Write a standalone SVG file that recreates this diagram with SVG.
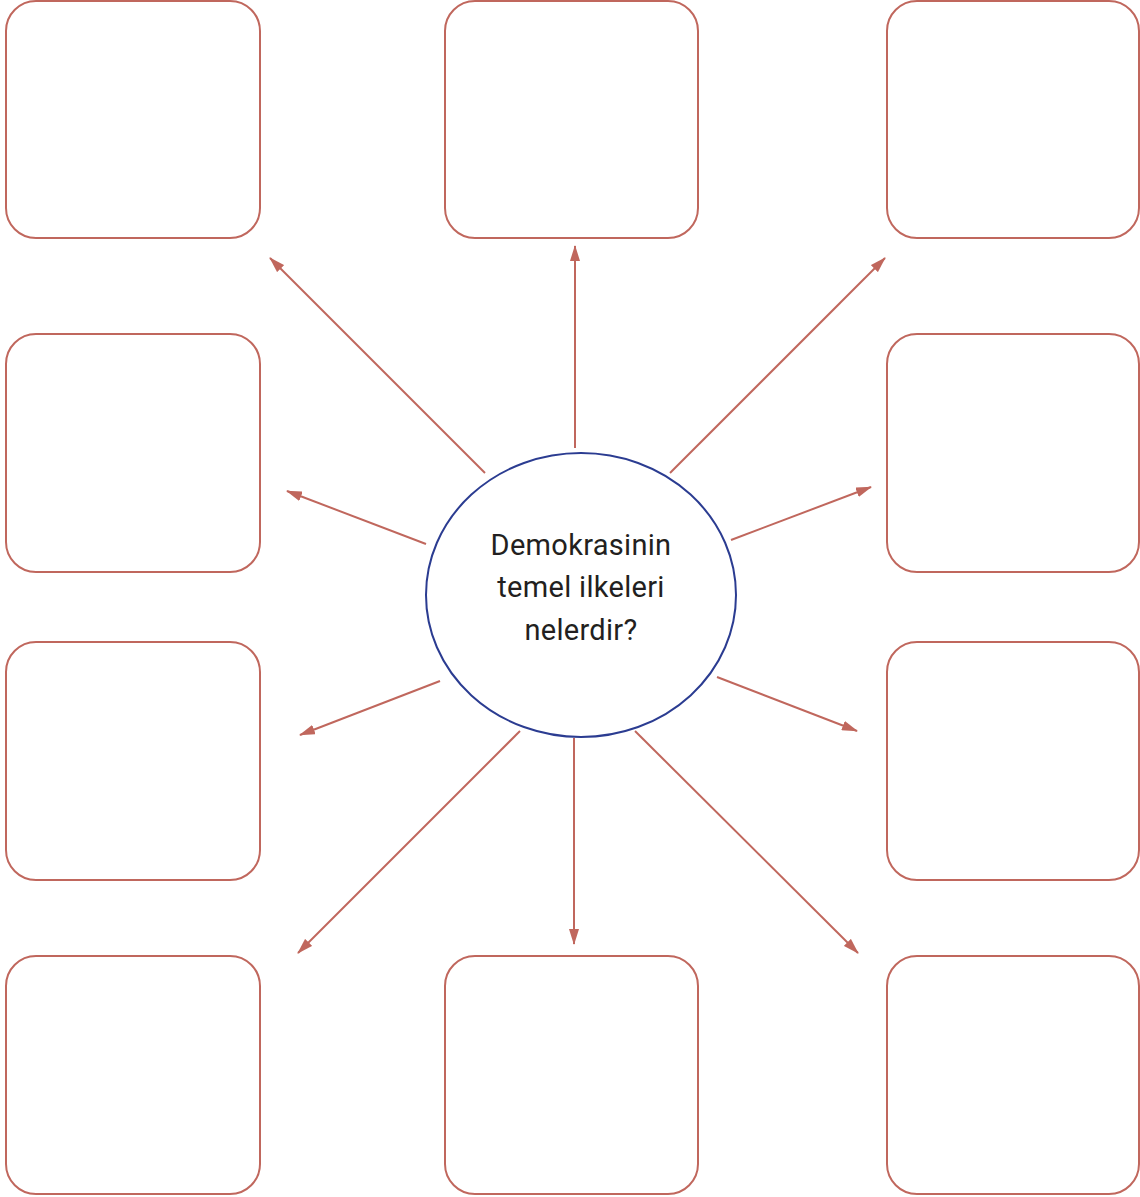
<svg xmlns="http://www.w3.org/2000/svg" width="1140" height="1197" viewBox="0 0 1140 1197">
<style>
.box{fill:#fff;stroke:#c0675d;stroke-width:2}
.con{stroke:#c0675d;stroke-width:2;fill:none;marker-end:url(#ah)}
.lbl{font-family:Roboto,"Liberation Sans",sans-serif;font-size:29px;letter-spacing:0.3px;fill:#231f20;text-anchor:middle}
</style>
<defs>
<marker id="ah" viewBox="0 0 16 10" refX="15" refY="5" markerWidth="16" markerHeight="10" markerUnits="userSpaceOnUse" orient="auto">
<path d="M0,0 L16,5 L0,10 Z" fill="#c0675d"/>
</marker>
</defs>
<rect width="1140" height="1197" fill="#fff"/>
<g id="box-r1c1"><rect class="box" x="6" y="1" width="254" height="237" rx="30"/></g>
<g id="box-r1c2"><rect class="box" x="445" y="1" width="253" height="237" rx="30"/></g>
<g id="box-r1c3"><rect class="box" x="887" y="1" width="252" height="237" rx="30"/></g>
<g id="box-r2c1"><rect class="box" x="6" y="334" width="254" height="238" rx="30"/></g>
<g id="box-r2c3"><rect class="box" x="887" y="334" width="252" height="238" rx="30"/></g>
<g id="box-r3c1"><rect class="box" x="6" y="642" width="254" height="238" rx="30"/></g>
<g id="box-r3c3"><rect class="box" x="887" y="642" width="252" height="238" rx="30"/></g>
<g id="box-r4c1"><rect class="box" x="6" y="956" width="254" height="238" rx="30"/></g>
<g id="box-r4c2"><rect class="box" x="445" y="956" width="253" height="238" rx="30"/></g>
<g id="box-r4c3"><rect class="box" x="887" y="956" width="252" height="238" rx="30"/></g>
<g id="connectors">
<line class="con" x1="485" y1="473" x2="270" y2="258"/>
<line class="con" x1="575" y1="448" x2="575" y2="246"/>
<line class="con" x1="670" y1="473" x2="885" y2="258"/>
<line class="con" x1="426" y1="544" x2="287" y2="491"/>
<line class="con" x1="731" y1="540" x2="871" y2="487"/>
<line class="con" x1="440" y1="681" x2="300" y2="735"/>
<line class="con" x1="717" y1="677" x2="857" y2="731"/>
<line class="con" x1="520" y1="731" x2="298" y2="953"/>
<line class="con" x1="574" y1="738" x2="574" y2="944"/>
<line class="con" x1="635" y1="731" x2="858" y2="953"/>
</g>
<g id="center">
<ellipse cx="581" cy="595" rx="155" ry="142" fill="#fff" stroke="#2b3c91" stroke-width="2"/>
<text class="lbl" x="581" y="555">Demokrasinin</text>
<text class="lbl" x="581" y="597">temel ilkeleri</text>
<text class="lbl" x="581" y="640">nelerdir?</text>
</g>
</svg>
